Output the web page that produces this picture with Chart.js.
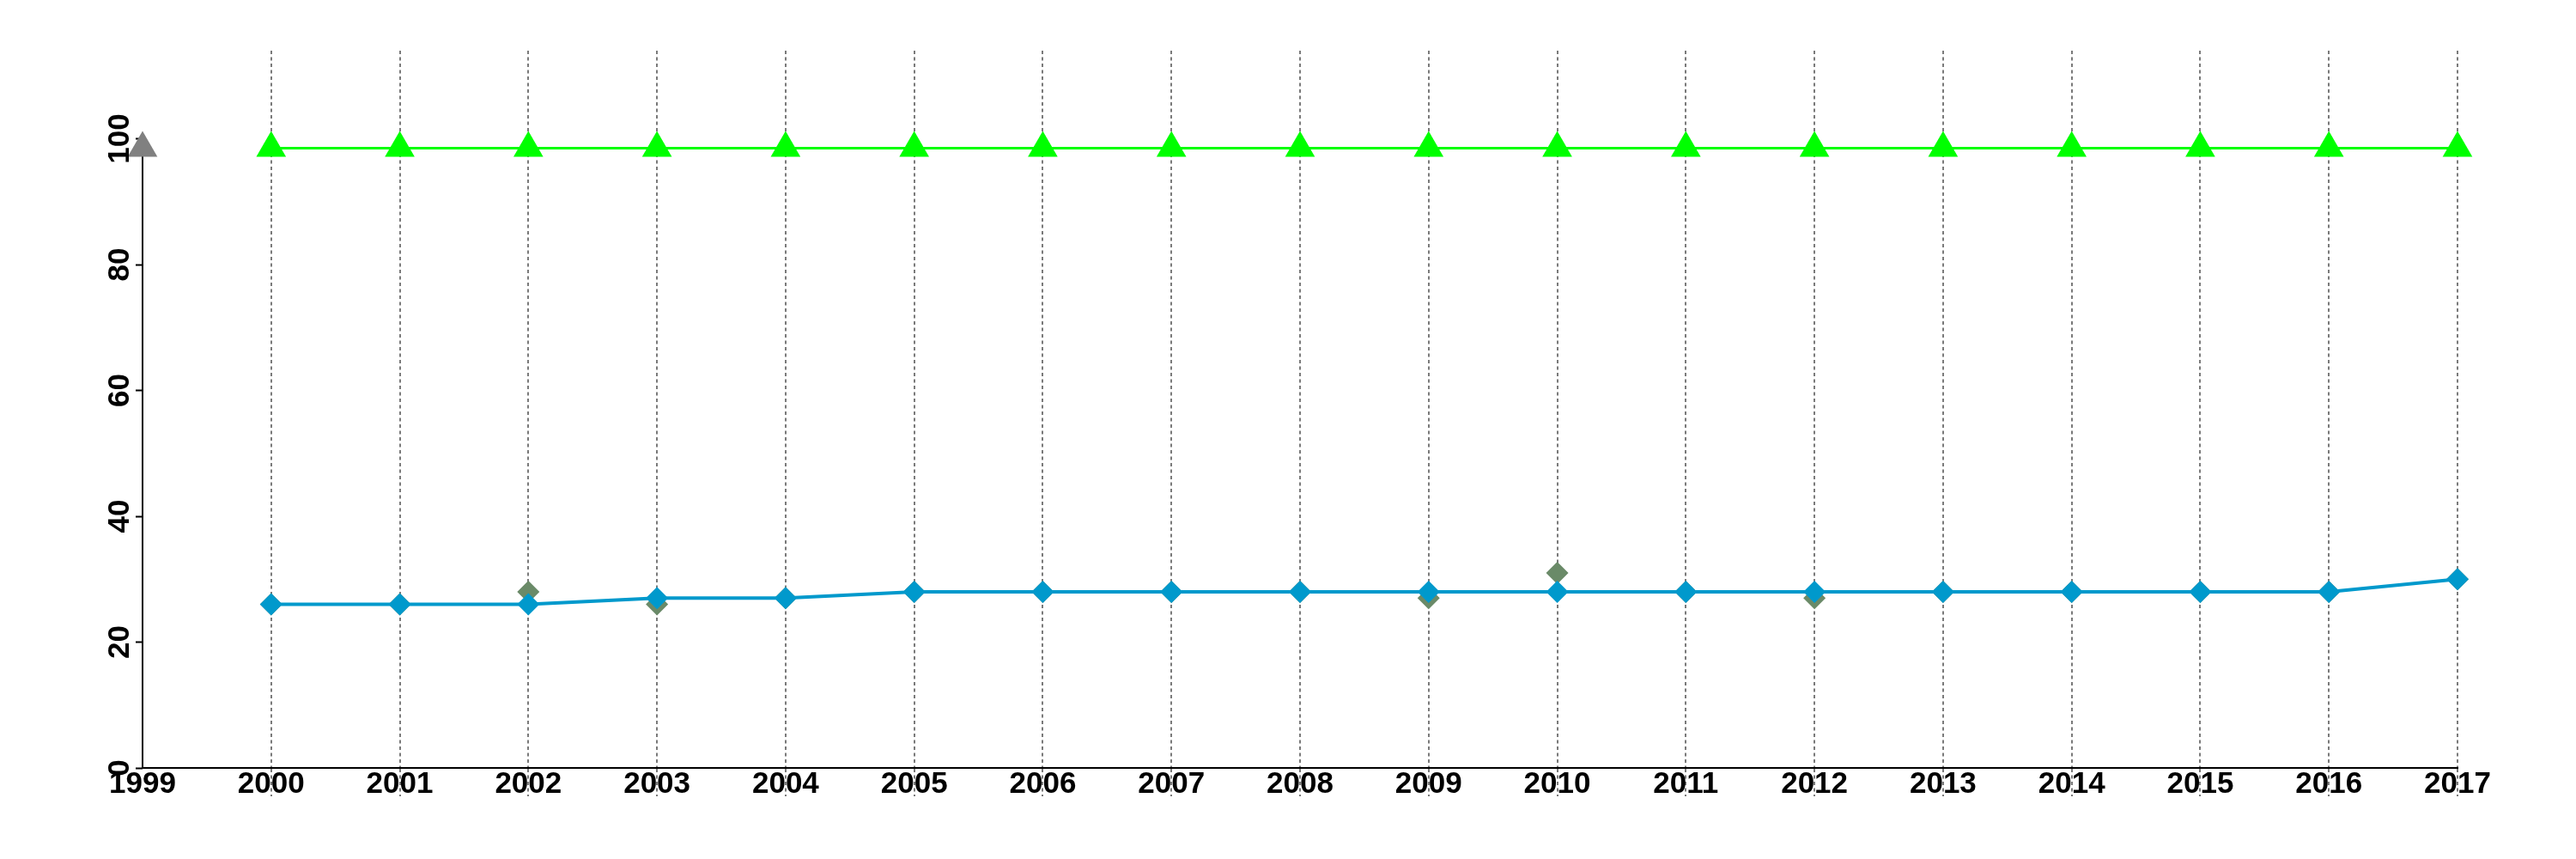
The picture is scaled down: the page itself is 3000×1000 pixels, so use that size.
<!DOCTYPE html>
<html>
<head>
<meta charset="utf-8">
<script src="https://cdn.jsdelivr.net/npm/chart.js@4.4.0/dist/chart.umd.min.js"></script>
<style>
  html, body { margin: 0; padding: 0; background: #fff; }
  canvas { display: block; }
</style>
</head>
<body>
<canvas id="myLineChart" width="3000" height="1000"></canvas>
<script>
const years = [2000, 2001, 2002, 2003, 2004, 2005, 2006, 2007, 2008, 2009, 2010, 2011, 2012, 2013, 2014, 2015, 2016, 2017];
const blueValues = [26, 26, 26, 27, 27, 28, 28, 28, 28, 28, 28, 28, 28, 28, 28, 28, 28, 30];
const oliveValues = [26, 26, 28, 26, 27, 28, 28, 28, 28, 27, 31, 28, 27, 28, 28, 28, 28, 30];
const greenValues = [98.5, 98.5, 98.5, 98.5, 98.5, 98.5, 98.5, 98.5, 98.5, 98.5, 98.5, 98.5, 98.5, 98.5, 98.5, 98.5, 98.5, 98.5];
// y axis runs from the origin up to the grey marker at the first year
const axisYear = 1999;
const axisValues = [0, 98.5];
const yTicks = [0, 20, 40, 60, 80, 100];

const FONT = "'Liberation Sans', Arial, sans-serif";
const GRID = '#7a7a7a';

const pts = (xs, ys) => xs.map((x, i) => ({ x: x, y: ys[i] }));
// no dashed line at the first year, the axis sits there
const gridColor = c => (c.tick && c.tick.value === axisYear) ? 'rgba(0,0,0,0)' : GRID;

// rotated y labels, read bottom to top
const yLabels = {
  id: 'yLabels',
  afterDraw(chart) {
    const ctx = chart.ctx;
    const ys = chart.scales.y;
    ctx.save();
    ctx.fillStyle = '#000';
    ctx.font = 'bold 35px ' + FONT;
    ctx.textAlign = 'center';
    ctx.textBaseline = 'alphabetic';
    ys.ticks.forEach(t => {
      const py = ys.getPixelForValue(t.value);
      ctx.save();
      ctx.translate(chart.chartArea.left - 16, py);
      ctx.rotate(-Math.PI / 2);
      ctx.fillText(String(t.value), 0, 0);
      ctx.restore();
    });
    ctx.restore();
  }
};

const ctx = document.getElementById('myLineChart').getContext('2d');
new Chart(ctx, {
  type: 'line',
  data: {
    datasets: [
      {
        label: 'blue',
        data: pts(years, blueValues),
        borderColor: '#0099cc',
        backgroundColor: '#0099cc',
        borderWidth: 4,
        pointStyle: 'rectRot',
        pointRadius: 13,
        pointBorderWidth: 0,
        pointBackgroundColor: '#0099cc',
        fill: false,
        clip: false,
        order: 1
      },
      {
        label: 'olive',
        data: pts(years, oliveValues),
        showLine: false,
        pointStyle: 'rectRot',
        pointRadius: 13,
        pointBorderWidth: 0,
        pointBackgroundColor: '#6a8a68',
        clip: false,
        order: 2
      },
      {
        label: 'green',
        data: pts(years, greenValues),
        borderColor: '#00ff00',
        borderWidth: 3,
        pointStyle: 'triangle',
        pointRadius: 20,
        pointBorderWidth: 0,
        pointBackgroundColor: '#00ff00',
        fill: false,
        clip: false,
        order: 3
      },
      {
        label: 'axis',
        data: axisValues.map(v => ({ x: axisYear, y: v })),
        borderColor: '#000',
        borderWidth: 2,
        pointStyle: 'triangle',
        pointRadius: [0, 20],
        pointBorderWidth: 0,
        pointBackgroundColor: '#808080',
        fill: false,
        clip: false,
        order: 4
      }
    ]
  },
  options: {
    responsive: false,
    animation: false,
    layout: { padding: { top: 59, right: 138, bottom: 0, left: 0 } },
    plugins: { legend: { display: false }, tooltip: { enabled: false } },
    scales: {
      x: {
        type: 'linear',
        min: 1999,
        max: 2017,
        afterFit: s => { s.height = 106; },
        afterBuildTicks: s => { s.ticks = [axisYear].concat(years).map(v => ({ value: v })); },
        grid: {
          color: gridColor,
          lineWidth: 2,
          drawTicks: true,
          tickLength: 33,
          tickColor: gridColor,
          tickWidth: 2,
          tickBorderDash: [4, 3.5]
        },
        border: { display: true, color: '#000', width: 2, dash: [4, 3.5] },
        ticks: {
          autoSkip: false,
          maxRotation: 0,
          padding: -35,
          color: '#000',
          font: { family: FONT, weight: 'bold', size: 35 },
          callback: v => String(v)
        }
      },
      y: {
        type: 'linear',
        min: 0,
        max: 114,
        afterFit: s => { s.width = 166; },
        afterBuildTicks: s => { s.ticks = yTicks.map(v => ({ value: v })); },
        grid: {
          drawOnChartArea: false,
          drawTicks: true,
          tickLength: 8,
          tickColor: '#000',
          tickWidth: 2
        },
        border: { display: false },
        ticks: { display: false }
      }
    }
  },
  plugins: [yLabels]
});
</script>
</body>
</html>
